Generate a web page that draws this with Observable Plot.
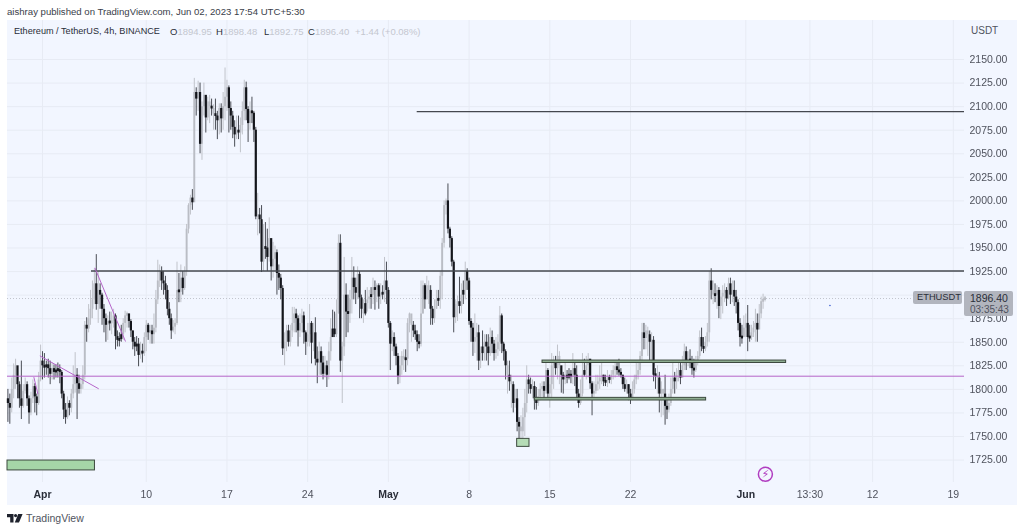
<!DOCTYPE html>
<html>
<head>
<meta charset="utf-8">
<script src="https://cdn.jsdelivr.net/npm/d3@7"></script>
<script src="https://cdn.jsdelivr.net/npm/@observablehq/plot@0.6"></script>
<style>
html,body{margin:0;padding:0;background:#fff;width:1024px;height:531px;overflow:hidden;font-family:"Liberation Sans",Arial,sans-serif;}
#panel{position:absolute;left:7px;top:20px;width:1010px;height:485px;background:#f2f6ff;}
#chart{position:absolute;left:0;top:0;}
#chart svg{display:block;filter:blur(0.3px);}
.t{position:absolute;white-space:nowrap;line-height:1;}
.tag{position:absolute;background:#b2b5be;border-radius:2px;}
.g{color:#c4c7cf}
</style>
</head>
<body>
<div id="panel"></div>
<div id="chart"></div>
<div class="t" style="left:7px;top:6.5px;font-size:9.6px;color:#3a3e4a">aishray published on TradingView.com, Jun 02, 2023 17:54 UTC+5:30</div>
<div class="t" style="left:14px;top:27px;font-size:9.15px;color:#2a2e39">Ethereum / TetherUS, 4h, BINANCE</div>
<div class="t" style="left:170px;top:27px;font-size:9.5px;color:#2a2e39">O<span class="g">1894.95</span></div>
<div class="t" style="left:216px;top:27px;font-size:9.5px;color:#2a2e39">H<span class="g">1898.48</span></div>
<div class="t" style="left:264px;top:27px;font-size:9.5px;color:#2a2e39">L<span class="g">1892.75</span></div>
<div class="t" style="left:308px;top:27px;font-size:9.5px;color:#2a2e39">C<span class="g">1896.40</span></div>
<div class="t" style="left:355px;top:27px;font-size:9.5px;color:#c4c7cf">+1.44 (+0.08%)</div>
<div class="t" style="left:971px;top:26px;font-size:10px;color:#50535e">USDT</div>
<div class="tag" style="left:913px;top:291px;width:49px;height:13px"></div>
<div class="t" style="left:917px;top:293px;font-size:9.3px;color:#2a2e39">ETHUSDT</div>
<div class="tag" style="left:964px;top:291px;width:49px;height:25px"></div>
<div class="t" style="left:970px;top:292.5px;font-size:10.5px;color:#2a2e39">1896.40</div>
<div class="t" style="left:970px;top:304.5px;font-size:10px;color:#50535e">03:35:43</div>
<svg style="position:absolute;left:7px;top:514px" width="16" height="9" viewBox="0 0 16 9"><path d="M0 0H6.5V8.5H3.2V3.2H0Z M8.6 0A1.6 1.6 0 1 1 8.6 3.2A1.6 1.6 0 1 1 8.6 0Z M11.2 0H15.6L12 8.5H7.8Z" fill="#1e222d"/></svg>
<div class="t" style="left:26px;top:513px;font-size:10.5px;color:#50535e">TradingView</div>
<script>
// 4h candles, one every 1/6 day, first bar 3 days before Apr 1
const firstBarDay = -3;
const firstOpen = 1790;

const closes = [
1785,1780,1800,1815,1825,1805,1790,1782,1798,1805,1790,1775,1790,1803,1792,1785,1810,1830,
1825,1823,1826,1822,1816,1822,1818,1820,1821,1818,
1795,1778,1770,1785,1780,1795,1805,1815,1806,1800,
1805,1815,1868,1864,1875,1885,1895,1912,1890,1905,
1900,1885,1875,1868,1872,1870,1872,1878,1856,1852,
1853,1858,1870,1878,1880,1872,1862,1850,1845,1848,
1836,1840,1838,1855,1868,1860,1862,1858,1865,1895,
1915,1925,1915,1912,1905,1885,1875,1862,1866,1870,
1905,1903,1918,1907,1925,1970,1995,2003,1998,2115,
2108,2115,2060,2100,2112,2088,2105,2100,2098,2092,
2090,2085,2098,2087,2100,2110,2120,2098,2090,2078,
2070,2075,2072,2080,2095,2120,2097,2082,2095,2093,
2075,1983,1985,1980,1935,1950,1950,1940,1960,1930,
1938,1945,1923,1918,1907,1843,1850,1862,1850,1862,
1870,1880,1875,1862,1870,1878,1860,1850,1858,1870,
1849,1860,1832,1828,1840,1828,1816,1825,1815,1840,
1855,1864,1858,1880,1955,1830,1845,1900,1882,1880,
1895,1918,1908,1902,1922,1897,1885,1880,1891,1895,
1898,1900,1908,1905,1910,1898,1902,1901,1915,1905,
1870,1848,1855,1845,1835,1814,1825,1835,1832,1832,
1870,1880,1868,1862,1858,1850,1848,1880,1910,1895,
1910,1905,1885,1875,1885,1895,1895,1920,1955,1995,
2000,1970,1960,1935,1876,1890,1893,1888,1900,1905,
1925,1915,1872,1865,1850,1855,1860,1830,1838,1845,
1850,1845,1838,1855,1848,1838,1842,1850,1878,1848,
1840,1825,1815,1808,1805,1785,1790,1765,1760,1755,
1770,1785,1810,1805,1800,1803,1790,1785,1792,1800,
1803,1798,1820,1795,1805,1825,1830,1822,1835,1825,
1815,1810,1815,1812,1816,1813,1822,1815,1795,1785,
1795,1815,1820,1825,1832,1806,1795,1798,1805,1808,
1812,1815,1808,1808,1812,1810,1815,1820,1824,1820,
1818,1815,1805,1800,1805,1795,1790,1800,1810,1815,
1820,1835,1860,1854,1862,1858,1850,1852,1815,1815,
1812,1795,1800,1795,1782,1778,1785,1800,1812,1808,
1815,1820,1812,1825,1840,1828,1832,1828,1822,1820,
1828,1835,1855,1845,1843,1850,1860,1915,1905,1900,
1900,1905,1888,1898,1902,1905,1896,1912,1900,1905,
1898,1892,1870,1855,1855,1865,1870,1855,1855,1860,
1865,1870,1863,1880,1893,1895,1896.4];

const highs = [
1800,1795,1812,1827,1832,1815,1808,1830,1805,1812,1808,1793,1797,1810,1806,1795,1818,1847,
1840,1838,1830,1832,1830,1828,1826,1826,1828,1826,
1820,1798,1785,1792,1788,1800,1825,1839,1822,1815,
1812,1825,1872,1876,1890,1905,1915,1928,1943,1925,
1912,1902,1890,1880,1878,1882,1882,1885,1880,1862,
1860,1868,1875,1883,1882,1880,1874,1862,1855,1856,
1854,1850,1848,1860,1873,1870,1868,1868,1880,1905,
1937,1932,1930,1925,1920,1910,1892,1880,1873,1875,
1935,1923,1932,1925,1930,1975,1997,2006,2012,2130,
2120,2127,2125,2105,2125,2106,2110,2112,2108,2102,
2108,2095,2103,2103,2115,2141,2128,2122,2105,2095,
2085,2090,2090,2088,2105,2128,2126,2100,2105,2110,
2095,2078,2008,1992,1995,1975,1977,1970,1982,1950,
1956,1952,1948,1932,1922,1910,1860,1868,1868,1868,
1887,1887,1885,1878,1880,1885,1882,1862,1870,1890,
1872,1870,1876,1845,1850,1845,1835,1835,1830,1850,
1875,1884,1882,1895,1964,1964,1850,1940,1912,1900,
1905,1940,1930,1918,1930,1925,1900,1895,1905,1908,
1905,1908,1918,1915,1912,1912,1912,1910,1940,1935,
1908,1872,1862,1860,1848,1838,1835,1840,1842,1842,
1875,1881,1878,1872,1868,1862,1858,1915,1915,1912,
1920,1915,1910,1888,1895,1905,1905,1925,1960,2000,
2002,2018,1972,1962,1937,1895,1899,1919,1912,1915,
1935,1928,1918,1875,1870,1880,1870,1868,1845,1862,
1858,1858,1858,1865,1862,1852,1855,1858,1888,1880,
1850,1842,1830,1830,1815,1808,1800,1800,1770,1772,
1780,1800,1825,1815,1812,1810,1808,1802,1800,1806,
1808,1808,1828,1822,1812,1838,1835,1835,1847,1840,
1822,1818,1830,1820,1822,1820,1838,1830,1825,1800,
1810,1838,1832,1835,1838,1830,1808,1808,1815,1815,
1825,1830,1815,1815,1820,1815,1820,1825,1830,1830,
1832,1822,1815,1812,1810,1805,1800,1808,1815,1830,
1830,1840,1870,1870,1868,1866,1862,1860,1856,1822,
1825,1818,1808,1800,1815,1790,1795,1812,1830,1818,
1822,1828,1830,1835,1848,1845,1840,1842,1835,1832,
1835,1840,1862,1865,1855,1856,1870,1925,1928,1915,
1912,1910,1908,1905,1910,1912,1908,1918,1918,1915,
1915,1905,1895,1875,1868,1878,1880,1889,1868,1868,
1872,1885,1880,1890,1898,1901,1898.48];

const lows = [
1765,1763,1775,1790,1800,1790,1780,1768,1780,1795,1782,1763,1772,1785,1775,1772,1783,1808,
1810,1812,1815,1812,1805,1810,1810,1812,1812,1806,
1790,1768,1763,1768,1772,1775,1790,1796,1768,1795,
1795,1800,1810,1850,1860,1868,1875,1890,1884,1870,
1885,1868,1860,1850,1852,1862,1858,1865,1842,1845,
1845,1850,1852,1860,1865,1865,1855,1842,1835,1840,
1824,1832,1828,1835,1840,1852,1848,1848,1848,1860,
1890,1908,1905,1900,1895,1878,1868,1853,1860,1858,
1868,1892,1892,1900,1905,1920,1965,1985,1990,2000,
2090,2095,2050,2043,2090,2072,2085,2082,2090,2075,
2075,2065,2070,2072,2075,2085,2095,2072,2075,2066,
2057,2065,2065,2051,2070,2085,2085,2062,2075,2082,
2062,1980,1963,1965,1924,1925,1938,1925,1935,1915,
1918,1925,1900,1905,1895,1836,1825,1840,1845,1845,
1855,1860,1860,1845,1855,1860,1848,1836,1845,1845,
1827,1840,1825,1806,1815,1815,1810,1812,1802,1810,
1830,1858,1855,1855,1880,1818,1785,1835,1855,1860,
1870,1880,1895,1890,1895,1875,1875,1870,1878,1882,
1885,1885,1890,1884,1892,1885,1890,1895,1892,1890,
1865,1820,1840,1835,1825,1805,1806,1815,1820,1818,
1825,1860,1850,1855,1852,1840,1843,1845,1880,1885,
1895,1890,1868,1868,1870,1885,1888,1885,1895,1950,
1985,1965,1950,1930,1860,1870,1872,1880,1880,1890,
1895,1905,1868,1850,1835,1838,1830,1820,1822,1830,
1830,1830,1825,1835,1838,1830,1832,1835,1840,1838,
1830,1810,1795,1798,1780,1775,1780,1755,1745,1745,
1742,1750,1775,1795,1795,1790,1778,1778,1782,1788,
1792,1790,1795,1790,1780,1790,1800,1815,1810,1805,
1796,1795,1805,1806,1810,1806,1805,1803,1790,1780,
1783,1792,1813,1810,1812,1800,1772,1790,1795,1798,
1800,1805,1803,1803,1802,1806,1805,1810,1812,1815,
1814,1812,1800,1797,1795,1788,1784,1788,1795,1805,
1810,1815,1830,1842,1842,1835,1830,1828,1808,1800,
1795,1775,1770,1772,1762,1768,1775,1782,1795,1795,
1800,1808,1805,1812,1820,1820,1824,1822,1815,1812,
1818,1825,1832,1840,1838,1840,1845,1850,1895,1890,
1892,1885,1875,1874,1880,1892,1888,1895,1890,1892,
1888,1880,1862,1845,1848,1855,1855,1840,1850,1852,
1855,1850,1850,1865,1875,1885,1892.75];

const directions = `
d d u u u d d d u u d d u u d d u u
d d d d d u d d d d
d d d u d u u u d d
u u u d u u u u d u
d d d d u d u u d d
d d u u u d d d d d
d u d u u d u d u u
u u d d d d d d u u
u d u d u u u u d u
d u d u u d u u d u
d d u d u u u d d d
d u d u u u d d u d
d d u d d u d d u d
u u d d d d u u d u
u u d d u u d d u u
d u d d u d d u d u
u d d u u d u u d d
u u d d u d d u d u
u d u d u d u d u d
d d u d d d u u u d
u u u d d d d u u d
u u d d u u d u u u
u d d d d u u d u d
u d d d d u u d u d
u d d u d d u u u d
d d u d u d u d d u
u u u d d u d d u u
u d u d u u u d u u
d d u d d d u d d d
u u d u u d d u u u
u u d d u d u u u d
d d d d u d d u u u
u u u d u u d u d d
u d u u d d u u u d
u u d u u d u d d d
u u u d d u u u d u
d u d u u u d u d u
d d d d d u u d d u
u u d u u u u`.trim().split(/\s+/);

const priceTicks = [1725,1750,1775,1800,1825,1850,1875,1900,1925,1950,1975,2000,2025,2050,2075,2100,2125,2150];
const monthTicks = [0,30,61];
const monthLabels = ["Apr","May","Jun"];
const dayTicks = [9,16,23,37,44,51,66.5625,72,79];
const dayLabels = ["10","17","24","8","15","22","13:30","12","19"];

const levelPrice = [2094.8,1925.6,1814];
const levelStart = [32.5,4.25,-3.035];
const levelWidth = [1.2,1.7,1];
const levelColor = ["#45484f","#45484f","#b565c9"];

const trendDay1 = [4.54,-0.23,-0.75];
const trendDay2 = [7.2,4.88,-0.4];
const trendPrice1 = [1929,1835.6,1813];
const trendPrice2 = [1850.8,1800.6,1795];

const boxDay1 = [-3.035,41.17,43.37,42.7];
const boxDay2 = [4.55,42.24,64.5,57.56];
const boxTop = [1724.5,1747.5,1830.6,1791];
const boxBottom = [1714,1739,1828,1788.2];
const boxFill = ["#a5d6a7","#b5dcb6","#8fae92","#8fae92"];

const lastPrice = 1896.4;
const alertDay = 62.7, alertPrice = 1710;
const markDay = 68.3, markPrice = 1889;

const bars = closes.map((c,i)=>{
  const o = i===0 ? firstOpen : closes[i-1];
  const lo = Math.min(o,c), hi = Math.max(o,c);
  const pad = hi-lo < 3 ? (3-(hi-lo))/2 : 0;
  return {day:firstBarDay+i/6, low:lows[i], high:highs[i], b1:lo-pad, b2:hi+pad, down:directions[i]==="d"};
});
const downBars = bars.filter(b=>b.down);
const upBars = bars.filter(b=>!b.down);
const levels = levelPrice.map((p,i)=>({p,s:levelStart[i],w:levelWidth[i],c:levelColor[i]}));
const trends = trendDay1.map((d,i)=>({x1:d,x2:trendDay2[i],y1:trendPrice1[i],y2:trendPrice2[i]}));
const boxes = boxDay1.map((d,i)=>({x1:d,x2:boxDay2[i],y1:boxBottom[i],y2:boxTop[i],f:boxFill[i]}));
const allTicks = monthTicks.concat(dayTicks);
const lab = (ticks,labels)=>(d=>labels[ticks.indexOf(d)]);
const axisStyle = {tickSize:0,tickPadding:8,label:null,color:"#50535e"};

const plot = Plot.plot({
  width:1024,height:531,
  marginTop:20,marginBottom:49,marginLeft:7,marginRight:60,
  style:{background:"transparent",fontFamily:"Liberation Sans, Arial, sans-serif",fontSize:"10.5px"},
  x:{type:"linear",domain:[-3.035,79.97]},
  y:{type:"linear",domain:[1701.2,2191.4]},
  marks:[
    Plot.gridY(priceTicks,{stroke:"#e7ebf4",strokeOpacity:1}),
    Plot.gridX(allTicks,{stroke:"#e7ebf4",strokeOpacity:1}),
    Plot.ruleY([lastPrice],{stroke:"#c2c5cd",strokeDasharray:"1,2"}),
    Plot.ruleX(upBars,{x:"day",y1:"low",y2:"high",stroke:"#c0c3ca",strokeWidth:1}),
    Plot.ruleX(upBars,{x:"day",y1:"b1",y2:"b2",stroke:"#babdc5",strokeWidth:1.9}),
    Plot.ruleX(downBars,{x:"day",y1:"low",y2:"high",stroke:"#4a4d55",strokeWidth:1}),
    Plot.ruleX(downBars,{x:"day",y1:"b1",y2:"b2",stroke:"#14161c",strokeWidth:2.2}),
    Plot.ruleY(levels,{y:"p",x1:"s",x2:79.97,stroke:"c",strokeWidth:"w"}),
    Plot.link(trends,{x1:"x1",y1:"y1",x2:"x2",y2:"y2",stroke:"#b565c9",strokeWidth:1}),
    Plot.rect(boxes,{x1:"x1",x2:"x2",y1:"y1",y2:"y2",fill:"f",stroke:"#3d4a3f",strokeWidth:1}),
    Plot.dot([alertDay],{x:d=>d,y:()=>alertPrice,r:7,stroke:"#b03cc0",strokeWidth:1.5,fill:"none"}),
    Plot.text([alertDay],{x:d=>d,y:()=>alertPrice,text:()=>"⚡",fill:"#b03cc0",fontSize:11,fontWeight:"bold",fontFamily:"DejaVu Sans"}),
    Plot.dot([markDay],{x:d=>d,y:()=>markPrice,r:0.8,fill:"#3d5fd0"}),
    Plot.axisY(priceTicks,{anchor:"right",tickSize:0,tickPadding:5,tickFormat:d=>d.toFixed(2),label:null,color:"#50535e"}),
    Plot.axisX(monthTicks,{...axisStyle,tickFormat:lab(monthTicks,monthLabels),fontWeight:"bold",color:"#2a2e39"}),
    Plot.axisX(dayTicks,{...axisStyle,tickFormat:lab(dayTicks,dayLabels)})
  ]
});
document.getElementById("chart").append(plot);
</script>
</body>
</html>
